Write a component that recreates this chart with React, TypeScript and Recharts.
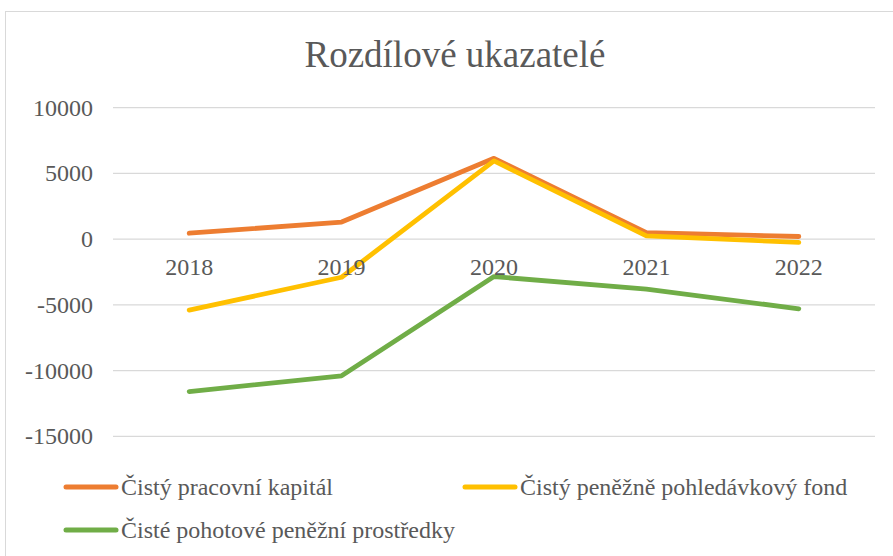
import React from 'react';
import { LineChart, Line, XAxis, YAxis, CartesianGrid, Legend } from 'recharts';

const years = ['2018', '2019', '2020', '2021', '2022'];
const cistyPracovniKapital = [450, 1300, 6150, 500, 200];
const cistyPenezniPohledavkovyFond = [-5400, -2900, 5950, 250, -250];
const cistePohotovePenezniProstredky = [-11600, -10400, -2850, -3800, -5300];
const yTicks = [-15000, -10000, -5000, 0, 5000, 10000];

const seriesNames = [
  'Čistý pracovní kapitál',
  'Čistý peněžně pohledávkový fond',
  'Čisté pohotové peněžní prostředky',
];
const seriesColors = ['#ED7D31', '#FFC000', '#70AD47'];

const data = years.map((y, i) => ({
  year: y,
  s0: cistyPracovniKapital[i],
  s1: cistyPenezniPohledavkovyFond[i],
  s2: cistePohotovePenezniProstredky[i],
}));

const W = 893;
const H = 556;
const Y_MIN = -15000;
const Y_MAX = 10000;
const PLOT_TOP = 107.7;
const PLOT_BOTTOM = 436.3;
const PLOT_H = PLOT_BOTTOM - PLOT_TOP;
const LEGEND_H = 86;
const MARGIN_BOTTOM = 4;
const XAXIS_H = H - MARGIN_BOTTOM - LEGEND_H - PLOT_BOTTOM;

const FONT = "'Liberation Serif', 'DejaVu Serif', 'Noto Serif', 'Times New Roman', Times, serif";
const TEXT = '#595959';

const XTick = (props: any) => {
  const { x, y, payload } = props;
  const zeroY = y - (PLOT_H * (0 - Y_MIN)) / (Y_MAX - Y_MIN);
  return (
    <text x={x} y={zeroY + 36} textAnchor="middle" fill={TEXT} fontSize={24} style={{ fontFamily: FONT }}>
      {payload.value}
    </text>
  );
};

const YTick = (props: any) => {
  const { x, y, payload } = props;
  return (
    <text x={x} y={y} dy={8} textAnchor="end" fill={TEXT} fontSize={24} style={{ fontFamily: FONT }}>
      {payload.value}
    </text>
  );
};

const LegendContent = (props: any) => {
  const payload = [...(props.payload || [])].sort(
    (a: any, b: any) => seriesNames.indexOf(a.value) - seriesNames.indexOf(b.value)
  );
  return (
    <div
      style={{
        height: LEGEND_H,
        width: W,
        boxSizing: 'border-box',
        paddingLeft: 63,
        display: 'flex',
        flexWrap: 'wrap',
        fontFamily: FONT,
        fontSize: 24,
        color: TEXT,
      }}
    >
      {payload.map((p: any, i: number) => (
        <div key={i} style={{ width: 399, height: 42, display: 'flex', alignItems: 'center' }}>
          <svg width={56} height={10} style={{ flex: 'none' }}>
            <line x1={3} y1={5} x2={53} y2={5} stroke={p.color} strokeWidth={5} strokeLinecap="round" />
          </svg>
          <span style={{ marginLeft: 2, whiteSpace: 'nowrap', lineHeight: '42px' }}>{p.value}</span>
        </div>
      ))}
    </div>
  );
};

export default function App() {
  return (
    <div
      style={{
        position: 'absolute',
        left: 0,
        top: 0,
        width: W,
        height: H,
        overflow: 'hidden',
        background: '#fff',
      }}
    >
      <div
        style={{
          position: 'absolute',
          left: 5,
          top: 11,
          width: 1000,
          height: 1000,
          borderTop: '1.5px solid #d9d9d9',
          borderLeft: '1.5px solid #d9d9d9',
        }}
      />
      <div
        style={{
          position: 'absolute',
          left: 0,
          top: 36,
          width: 910,
          textAlign: 'center',
          fontFamily: FONT,
          fontSize: 37,
          lineHeight: '37px',
          color: TEXT,
          whiteSpace: 'nowrap',
        }}
      >
        Rozdílové ukazatelé
      </div>
      <div style={{ position: 'absolute', left: 0, top: 0 }}>
        <LineChart
          width={W}
          height={H}
          data={data}
          margin={{ top: PLOT_TOP, right: W - 875, bottom: MARGIN_BOTTOM, left: 0 }}
        >
          <CartesianGrid vertical={false} stroke="#d9d9d9" strokeWidth={1.3} />
          <XAxis
            dataKey="year"
            height={XAXIS_H}
            axisLine={false}
            tickLine={false}
            tickSize={0}
            tickMargin={0}
            padding={{ left: 76.2, right: 76.2 }}
            tick={<XTick />}
            interval={0}
          />
          <YAxis
            width={113}
            domain={[Y_MIN, Y_MAX]}
            ticks={yTicks}
            axisLine={false}
            tickLine={false}
            tickSize={0}
            tickMargin={20}
            interval={0}
            tick={<YTick />}
          />
          {['s0', 's1', 's2'].map((k, i) => (
            <Line
              key={k}
              type="linear"
              dataKey={k}
              name={seriesNames[i]}
              stroke={seriesColors[i]}
              strokeWidth={4.8}
              strokeLinecap="round"
              strokeLinejoin="round"
              dot={false}
              activeDot={false}
              isAnimationActive={false}
            />
          ))}
          <Legend
            verticalAlign="bottom"
            content={<LegendContent />}
            wrapperStyle={{ left: 0, top: H - MARGIN_BOTTOM - LEGEND_H, width: W, height: LEGEND_H }}
          />
        </LineChart>
      </div>
    </div>
  );
}
